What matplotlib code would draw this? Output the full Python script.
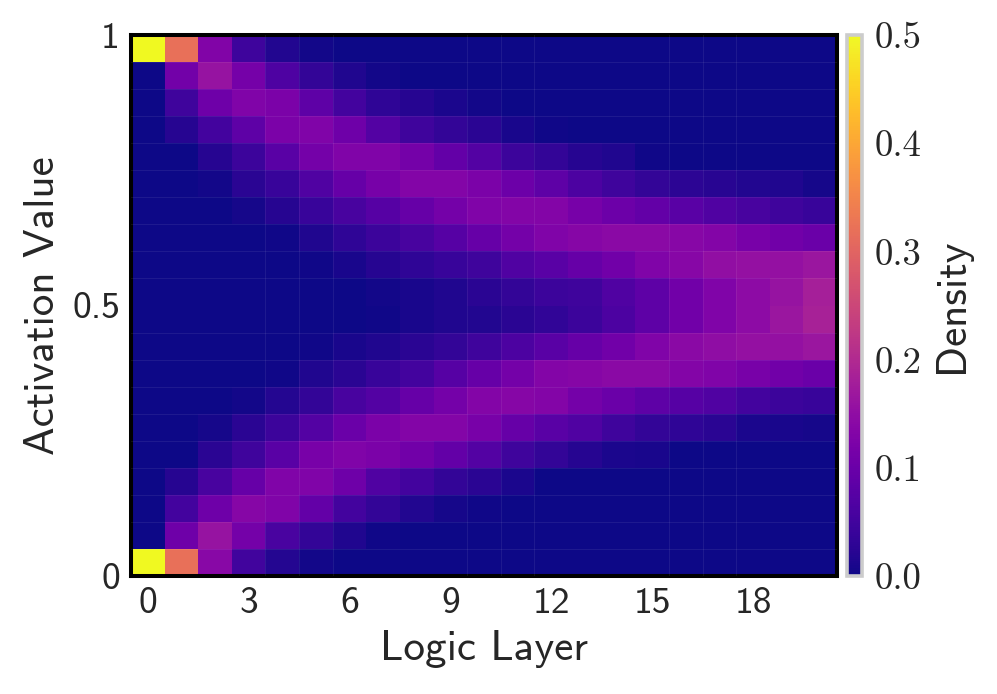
import matplotlib
matplotlib.use("Agg")
import matplotlib.pyplot as plt
import numpy as np

# density per row (top of the plot first), one value per logic layer 0..20
row_00 = [.5, .32, .13, .045, .016, .005, .001, 0, 0, 0, 0, 0, 0, 0, 0, 0, 0, 0, 0, 0, 0]
row_01 = [0, .11, .16, .115, .065, .034, .015, .004, .001, 0, 0, 0, 0, 0, 0, 0, 0, 0, 0, 0, 0]
row_02 = [0, .048, .104, .128, .122, .085, .052, .03, .02, .011, .004, .001, 0, 0, 0, 0, 0, 0, 0, 0, 0]
row_03 = [0, .02, .052, .085, .122, .128, .104, .072, .048, .034, .025, .009, .003, .001, 0, 0, 0, 0, 0, 0, 0]
row_04 = [0, .001, .02, .044, .08, .112, .128, .128, .112, .09, .072, .044, .034, .02, .015, .003, .001, 0, 0, 0, 0]
row_05 = [0, 0, .005, .025, .04, .067, .094, .117, .132, .132, .122, .103, .085, .063, .048, .034, .027, .023, .016, .014, .006]
row_06 = [0, 0, 0, .006, .02, .04, .058, .076, .094, .113, .128, .132, .132, .117, .103, .09, .08, .067, .058, .048, .04]
row_07 = [0, 0, 0, 0, .003, .014, .03, .044, .058, .076, .094, .113, .128, .136, .142, .142, .137, .132, .118, .108, .1]
row_08 = [0, 0, 0, 0, .001, .003, .009, .02, .03, .04, .048, .067, .08, .094, .108, .128, .137, .152, .155, .155, .165]
row_09 = [0, 0, 0, 0, 0, 0, .001, .005, .009, .014, .025, .034, .044, .048, .067, .085, .108, .128, .145, .16, .18]
row_10 = [0, 0, 0, 0, 0, 0, .001, .003, .009, .014, .016, .025, .032, .044, .063, .085, .108, .128, .145, .165, .185]
row_11 = [0, 0, 0, 0, 0, .002, .009, .014, .025, .034, .048, .063, .08, .094, .108, .128, .142, .15, .155, .155, .165]
row_12 = [0, 0, 0, 0, .002, .014, .025, .04, .052, .076, .094, .113, .132, .136, .142, .142, .132, .128, .118, .108, .1]
row_13 = [0, 0, 0, .005, .018, .034, .058, .072, .094, .113, .132, .136, .132, .113, .1, .085, .076, .067, .052, .044, .04]
row_14 = [0, 0, .006, .025, .044, .072, .1, .122, .132, .132, .118, .094, .08, .067, .048, .034, .03, .025, .011, .009, .006]
row_15 = [0, .001, .025, .048, .08, .118, .128, .122, .108, .09, .072, .048, .034, .02, .011, .009, .001, 0, 0, 0, 0]
row_16 = [0, .02, .058, .094, .128, .128, .104, .067, .052, .034, .025, .011, .001, 0, 0, 0, 0, 0, 0, 0, 0]
row_17 = [0, .052, .104, .136, .128, .09, .052, .034, .016, .006, .002, 0, 0, 0, 0, 0, 0, 0, 0, 0, 0]
row_18 = [0, .104, .16, .113, .06, .034, .015, .003, .001, 0, 0, 0, 0, 0, 0, 0, 0, 0, 0, 0, 0]
row_19 = [.5, .32, .14, .05, .018, .005, .001, 0, 0, 0, 0, 0, 0, 0, 0, 0, 0, 0, 0, 0, 0]

density = np.array([row_00, row_01, row_02, row_03, row_04, row_05, row_06, row_07, row_08, row_09,
                    row_10, row_11, row_12, row_13, row_14, row_15, row_16, row_17, row_18, row_19])

x_ticks = [0, 3, 6, 9, 12, 15, 18]
y_ticks = [0, 0.5, 1]
y_labels = ["0", "0.5", "1"]
cbar_ticks = [0.0, 0.1, 0.2, 0.3, 0.4, 0.5]
# cell borders that show as faint seams in the picture
seam_layers = [3.5, 4.5, 5.5, 9.5, 10.5, 11.5, 15.5, 16.5, 17.5]

W, H = 997, 694
text_col = "#262626"

fig = plt.figure(figsize=(W / 100, H / 100), dpi=100)
ax = fig.add_axes([131 / W, 1 - 576 / H, (837 - 131) / W, (576 - 35) / H])

n_rows, n_cols = density.shape
x_edges = np.arange(n_cols + 1) - 0.5
y_edges = np.linspace(1, 0, n_rows + 1)
mesh = ax.pcolormesh(x_edges, y_edges, density, cmap="plasma", vmin=0, vmax=0.5)

ax.set_xlim(-0.5, 20.5)
ax.set_ylim(0, 1)
ax.set_xticks(x_ticks)
ax.set_xticklabels([str(t) for t in x_ticks], family="cmss10", fontsize=27, color=text_col)
ax.set_yticks(y_ticks)
ax.set_yticklabels(y_labels, family="cmss10", fontsize=27, color=text_col)
ax.set_xticks(seam_layers, minor=True)
ax.set_yticks(y_edges[1:-1], minor=True)
ax.grid(which="minor", color="white", alpha=0.07, linewidth=0.8)
ax.set_axisbelow(False)
ax.tick_params(which="both", length=0)
ax.tick_params(which="major", pad=8)
ax.set_xlabel("Logic Layer", family="cmss10", fontsize=31, color=text_col, labelpad=7)
ax.set_ylabel("Activation Value", family="cmss10", fontsize=31, color=text_col, labelpad=7)
for s in ax.spines.values():
    s.set_linewidth(2.9)
    s.set_color("black")

cax = fig.add_axes([847 / W, 1 - 576 / H, (862 - 847) / W, (576 - 35) / H])
cbar = fig.colorbar(mesh, cax=cax)
cbar.set_ticks(cbar_ticks)
cbar.set_ticklabels(["%.1f" % t for t in cbar_ticks], family="cmr10", fontsize=26.5, color=text_col)
cbar.ax.tick_params(length=0, pad=9)
cbar.outline.set_edgecolor("#cccccc")
cbar.outline.set_linewidth(2.6)
cbar.set_label("Density", family="cmss10", fontsize=31, color=text_col, labelpad=8)

fig.savefig("out.png", dpi=100)
